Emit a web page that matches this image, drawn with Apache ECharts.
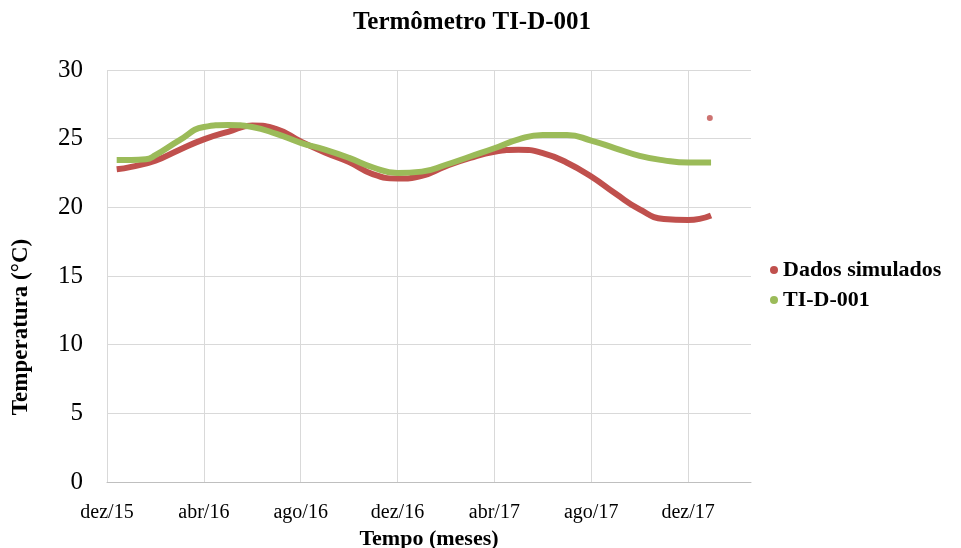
<!DOCTYPE html>
<html>
<head>
<meta charset="utf-8">
<script src="https://cdn.jsdelivr.net/npm/echarts@6/dist/echarts.min.js"></script>
<style>
  html, body { margin: 0; padding: 0; background: #fff; }
  #chart { width: 961px; height: 548px; }
</style>
</head>
<body>
<div id="chart"></div>
<script>
// x = months after dez/15
var tickLabels = ['dez/15', 'abr/16', 'ago/16', 'dez/16', 'abr/17', 'ago/17', 'dez/17'];

var simMonths = [0.4, 1, 2, 3, 4, 5, 6, 7, 8, 9, 10, 11, 12, 13, 14, 15, 16, 17, 18, 19, 20, 21, 22, 23, 24, 24.95];
var simValues = [22.77, 22.95, 23.4, 24.2, 24.95, 25.5, 25.95, 25.7, 24.8, 24.0, 23.3, 22.4, 22.1, 22.3, 23.0, 23.6, 24.05, 24.2, 23.95, 23.25, 22.24, 21.0, 19.85, 19.15, 19.07, 19.4];
var simOutlier = [24.9, 26.5];

var tiMonths = [0.4, 1, 1.6, 2, 3, 4, 5, 6, 7, 8, 9, 10, 11, 12, 13, 14, 15, 16, 17, 18, 19, 20, 21, 22, 23, 24, 24.95];
var tiValues = [23.45, 23.45, 23.5, 23.8, 24.9, 25.85, 26.0, 25.85, 25.35, 24.7, 24.2, 23.6, 22.9, 22.5, 22.6, 23.1, 23.7, 24.3, 24.95, 25.27, 25.27, 24.86, 24.3, 23.75, 23.42, 23.26, 23.26];

function pairs(xs, ys){
	return xs.map(function(x, i){ return [x, ys[i]]; });
}

var serif = '"Liberation Serif", "Times New Roman", serif';
var chart = echarts.init(document.getElementById('chart'));

var option = {
	animation: false,
	title: {
		text: 'Termômetro TI-D-001',
		left: 467,
		textAlign: 'center',
		top: 5,
		textStyle: { fontFamily: serif, fontWeight: 'bold', fontSize: 25, color: '#000' }
	},
	legend: {
		orient: 'vertical',
		left: 765,
		top: 254,
		itemGap: 8,
		itemWidth: 8,
		itemHeight: 8,
		icon: 'circle',
		textStyle: { fontFamily: serif, fontWeight: 'bold', fontSize: 22, color: '#000' },
		data: ['Dados simulados', 'TI-D-001']
	},
	grid: { left: 107, right: 210, top: 70, bottom: 66, outerBoundsMode: 'none' },
	xAxis: {
		type: 'value',
		min: 0,
		max: 26.6,
		interval: 4,
		name: 'Tempo (meses)',
		nameLocation: 'middle',
		nameGap: 43,
		nameTextStyle: { fontFamily: serif, fontWeight: 'bold', fontSize: 22, color: '#000' },
		axisLine: { show: true, lineStyle: { color: '#bfbfbf', width: 1 } },
		axisTick: { show: false },
		axisLabel: {
			fontFamily: serif, fontSize: 20, color: '#000', margin: 21,
			showMaxLabel: false,
			formatter: function(v){
				var i = Math.round(v / 4);
				return (Math.abs(v - i * 4) < 1e-6 && tickLabels[i]) ? tickLabels[i] : '';
			}
		},
		splitLine: { show: true, showMaxLine: false, lineStyle: { color: '#d9d9d9', width: 1 } }
	},
	yAxis: {
		type: 'value',
		min: 0,
		max: 30,
		interval: 5,
		name: 'Temperatura (°C)',
		nameLocation: 'middle',
		nameGap: 74,
		nameTextStyle: { fontFamily: serif, fontWeight: 'bold', fontSize: 23, color: '#000', padding: [0, 102, 0, 0] },
		axisLine: { show: false },
		axisTick: { show: false },
		axisLabel: { fontFamily: serif, fontSize: 25, color: '#000', margin: 24 },
		splitLine: { show: true, lineStyle: { color: '#d9d9d9', width: 1 } }
	},
	series: [
		{
			name: 'Dados simulados',
			type: 'line',
			smooth: 0.5,
			showSymbol: false,
			color: '#C0504D',
			lineStyle: { width: 6, color: '#C0504D' },
			data: pairs(simMonths, simValues),
			z: 2
		},
		{
			name: 'Dados simulados',
			type: 'scatter',
			symbolSize: 6,
			color: '#C0504D',
			data: [simOutlier],
			z: 2
		},
		{
			name: 'TI-D-001',
			type: 'line',
			smooth: 0.5,
			showSymbol: false,
			color: '#9BBB59',
			lineStyle: { width: 6, color: '#9BBB59' },
			data: pairs(tiMonths, tiValues),
			z: 3
		}
	]
};

chart.setOption(option);
</script>
</body>
</html>
